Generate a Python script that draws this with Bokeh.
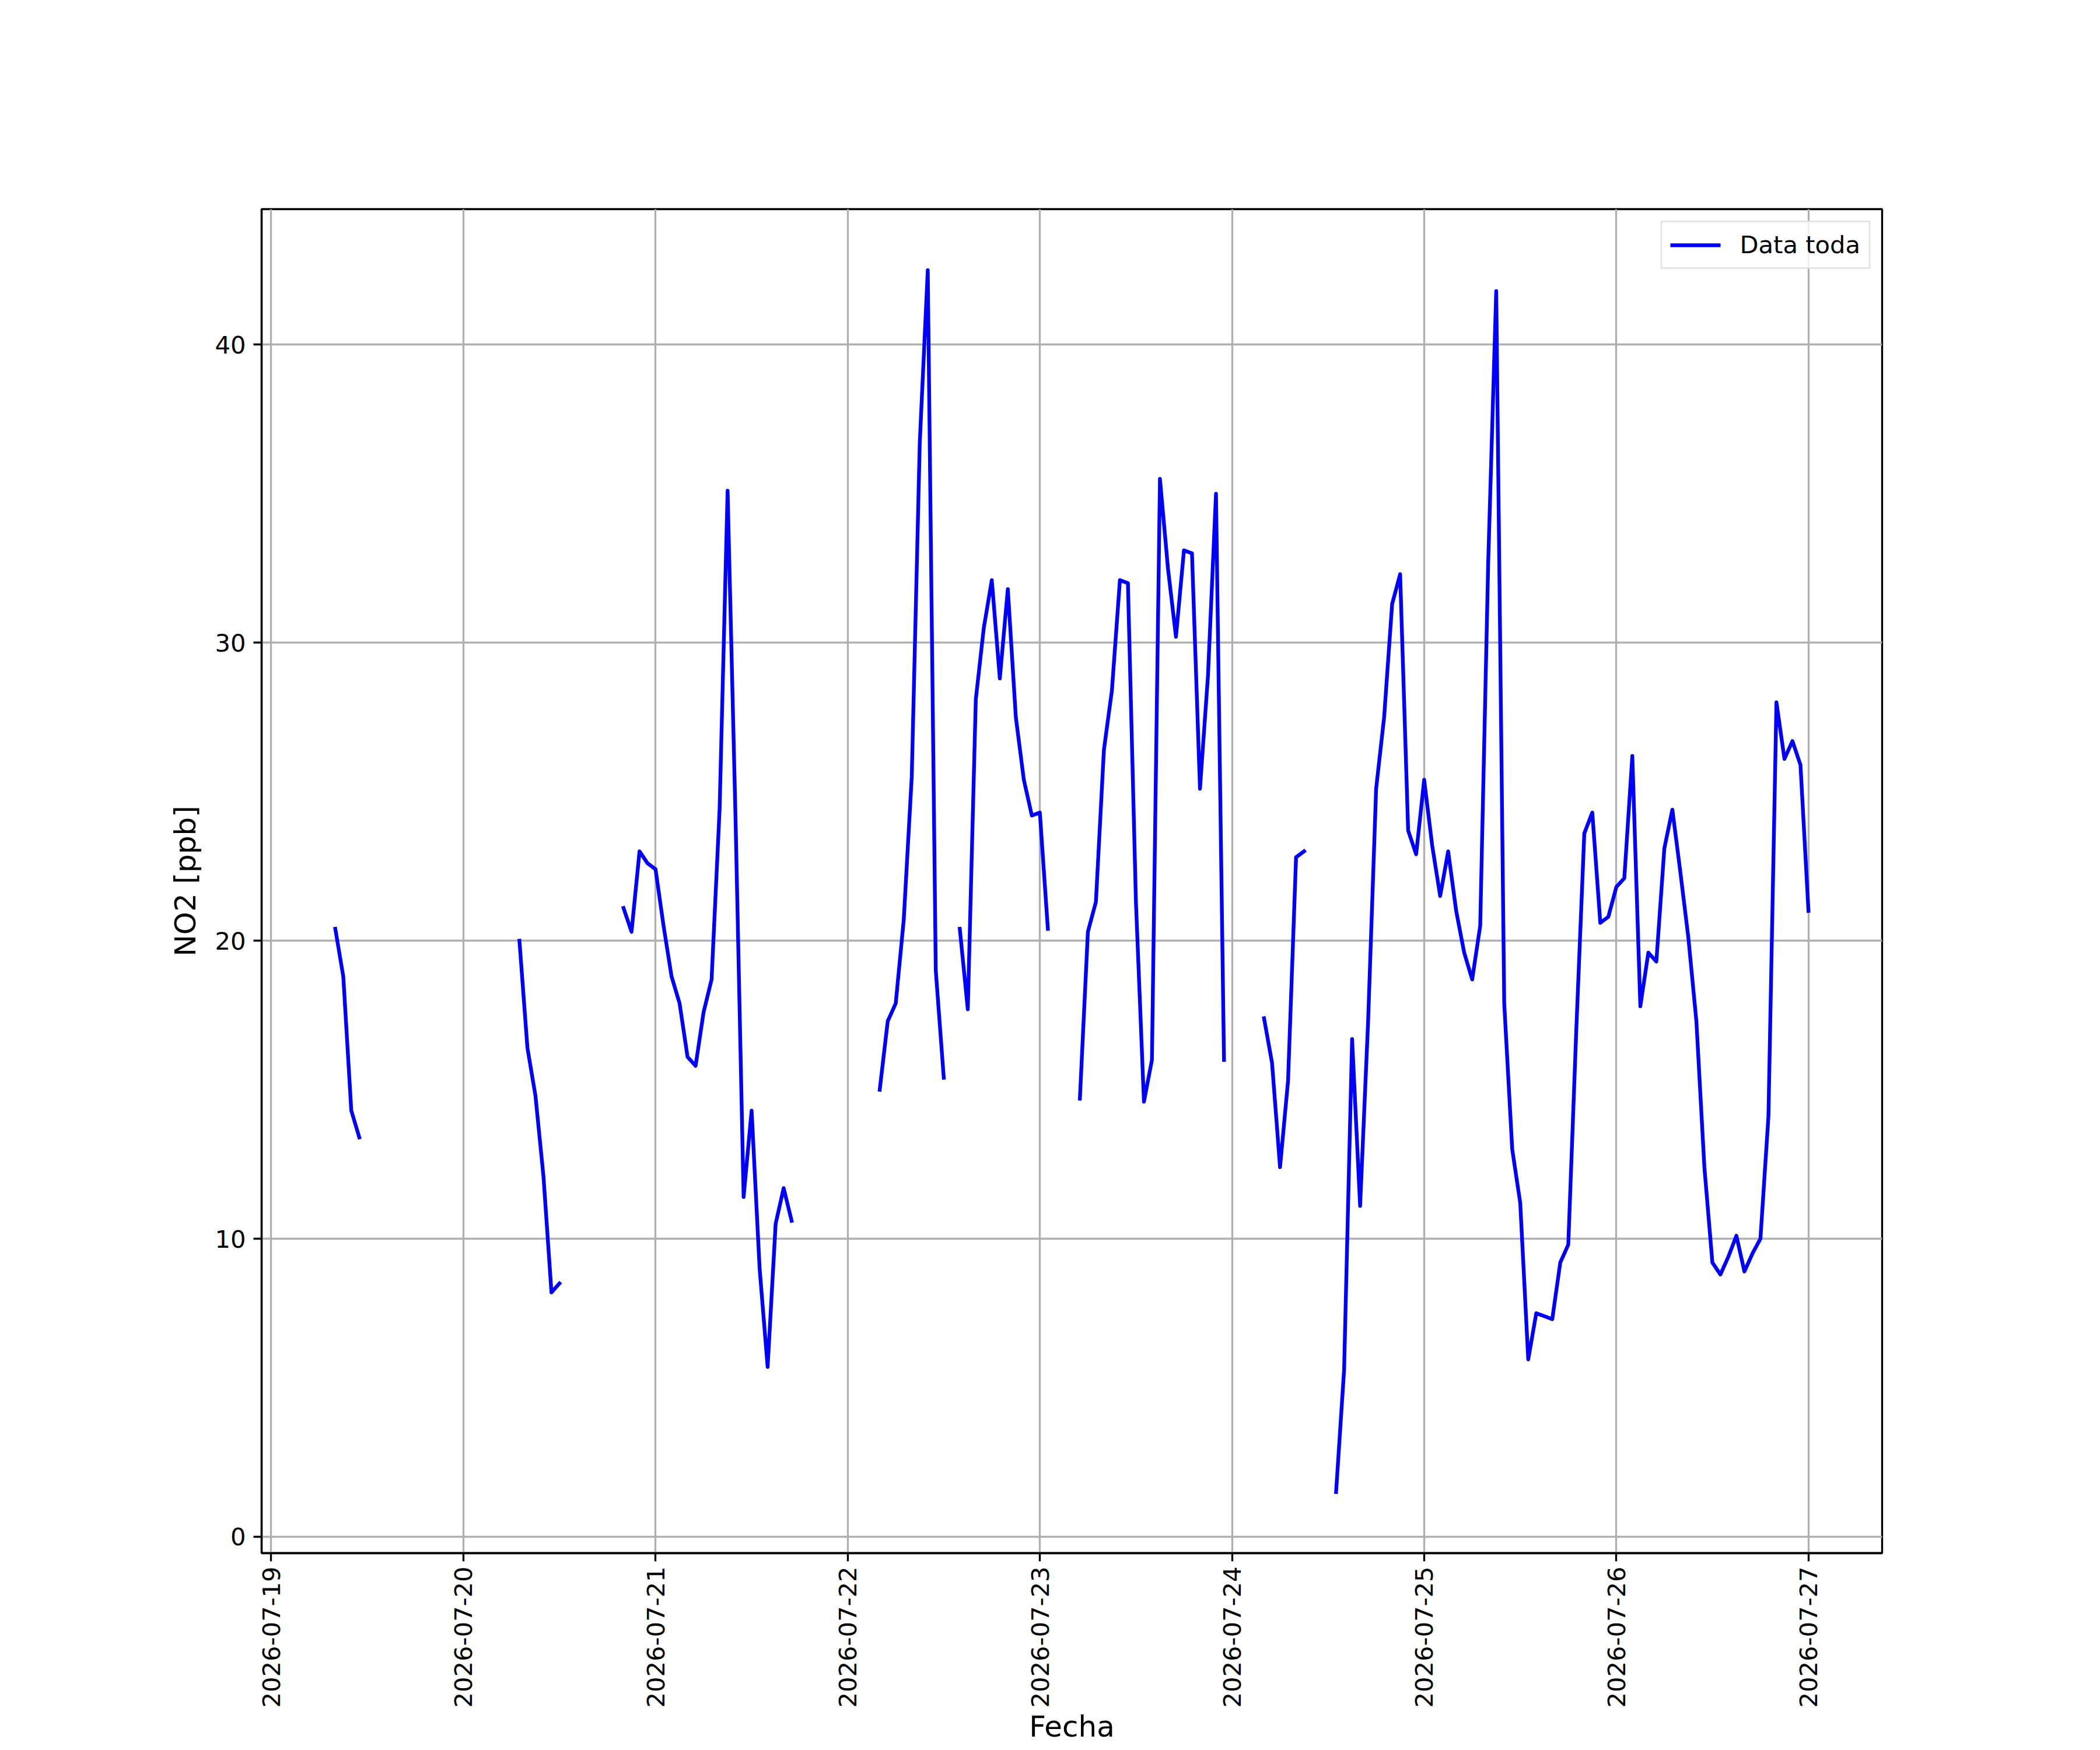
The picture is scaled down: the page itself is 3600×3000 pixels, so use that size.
import math
import numpy as np
import pandas as pd
from bokeh.plotting import figure
from bokeh.models import (ColumnDataSource, Range1d, FixedTicker, DatetimeTickFormatter,
                          Legend, LegendItem)
from bokeh.embed import file_html
from bokeh.resources import INLINE

# ---- data (hourly NO2, ppb), each list is a continuous run of hours ----
seg1_start = "2026-07-19 08:00"
seg1 = [20.4, 18.8, 14.3, 13.4]
seg2_start = "2026-07-20 07:00"
seg2 = [20.0, 16.4, 14.8, 12.1, 8.2, 8.5]
seg3_start = "2026-07-20 20:00"
seg3 = [21.1, 20.3, 23.0, 22.6, 22.4, 20.5, 18.8, 17.9, 16.1, 15.8, 17.6, 18.7,
        24.4, 35.1, 24.0, 11.4, 14.3, 9.0, 5.7, 10.5, 11.7, 10.6]
seg4_start = "2026-07-22 04:00"
seg4 = [15.0, 17.3, 17.9, 20.7, 25.5, 36.7, 42.5, 19.0, 15.4]
seg5_start = "2026-07-22 14:00"
seg5 = [20.4, 17.7, 28.1, 30.5, 32.1, 28.8, 31.8, 27.5, 25.4, 24.2, 24.3, 20.4]
seg6_start = "2026-07-23 05:00"
seg6 = [14.7, 20.3, 21.3, 26.4, 28.4, 32.1, 32.0, 21.3, 14.6, 16.0, 35.5, 32.5,
        30.2, 33.1, 33.0, 25.1, 28.9, 35.0, 16.0]
seg7_start = "2026-07-24 04:00"
seg7 = [17.4, 15.9, 12.4, 15.3, 22.8, 23.0]
seg8_start = "2026-07-24 13:00"
seg8_day24 = [1.5, 5.6, 16.7, 11.1, 17.3, 25.1, 27.5, 31.3, 32.3, 23.7, 22.9]
seg8_day25 = [25.4, 23.2, 21.5, 23.0, 21.0, 19.6, 18.7, 20.5, 32.7, 41.8, 17.9, 13.0,
              11.2, 5.95, 7.5, 7.4, 7.3, 9.2, 9.8, 17.0, 23.6, 24.3, 20.6, 20.8]
seg8_day26 = [21.8, 22.1, 26.2, 17.8, 19.6, 19.3, 23.1, 24.4, 22.3, 20.1, 17.3, 12.4,
              9.2, 8.8, 9.4, 10.1, 8.9, 9.5, 10.0, 14.1, 28.0, 26.1, 26.7, 25.9]
seg8_day27 = [21.0]

tick_days = ["2026-07-19", "2026-07-20", "2026-07-21", "2026-07-22", "2026-07-23",
             "2026-07-24", "2026-07-25", "2026-07-26", "2026-07-27"]
y_ticks = [0, 10, 20, 30, 40]
series_label = "Data toda"
x_label = "Fecha"
y_label = "NO2 [ppb]"

segments = [
    (seg1_start, seg1), (seg2_start, seg2), (seg3_start, seg3), (seg4_start, seg4),
    (seg5_start, seg5), (seg6_start, seg6), (seg7_start, seg7),
    (seg8_start, seg8_day24 + seg8_day25 + seg8_day26 + seg8_day27),
]


def ms(ts):
    return pd.Timestamp(ts).value / 1e6


xs, ys = [], []
for start, vals in segments:
    times = pd.date_range(start, periods=len(vals), freq="h")
    xs.extend([t.value / 1e6 for t in times])
    ys.extend(vals)
    xs.append(times[-1].value / 1e6 + 1800e3)
    ys.append(np.nan)
xs = xs[:-1]
ys = ys[:-1]

src = ColumnDataSource(dict(x=xs, y=ys))

valid_x = [x for x, y in zip(xs, ys) if not np.isnan(y)]
valid_y = [y for y in ys if not np.isnan(y)]
xmin, xmax = min(valid_x), max(valid_x)
ymin, ymax = min(valid_y), max(valid_y)
xpad = 0.05 * (xmax - xmin)
ypad = 0.05 * (ymax - ymin)
x0, x1 = xmin - xpad, xmax + xpad
y0, y1 = ymin - ypad, ymax + ypad

FONT = "DejaVu Sans"
LW = 3.33

p = figure(width=3584, height=2992, x_axis_type="datetime",
           x_range=Range1d(x0, x1), y_range=Range1d(y0, y1),
           output_backend="svg", toolbar_location=None,
           min_border_left=448, min_border_right=358,
           min_border_top=358, min_border_bottom=330)

p.background_fill_color = "white"
p.border_fill_color = "white"
p.outline_line_color = "black"
p.outline_line_width = LW

r = p.line("x", "y", source=src, line_color="#0000ff", line_width=6.4,
           line_join="round", line_cap="square")

# axes
p.xaxis.ticker = FixedTicker(ticks=[ms(d) for d in tick_days])
fmt = "%Y-%m-%d"
p.xaxis.formatter = DatetimeTickFormatter(
    microseconds=fmt, milliseconds=fmt, seconds=fmt, minsec=fmt, minutes=fmt,
    hourmin=fmt, hours=fmt, days=fmt, months=fmt, years=fmt)
p.xaxis.major_label_orientation = math.pi / 2
p.yaxis.ticker = FixedTicker(ticks=y_ticks)

for ax in (p.xaxis, p.yaxis):
    ax.axis_line_color = "black"
    ax.axis_line_width = LW
    ax.major_tick_line_color = "black"
    ax.major_tick_line_width = LW
    ax.major_tick_out = 14
    ax.major_tick_in = 0
    ax.minor_tick_out = 0
    ax.minor_tick_in = 0
    ax.major_label_text_font = FONT
    ax.major_label_text_font_size = "41.67px"
    ax.major_label_text_color = "black"
    ax.axis_label_text_font = FONT
    ax.axis_label_text_font_size = "50px"
    ax.axis_label_text_font_style = "normal"
    ax.axis_label_text_color = "black"
p.xaxis.major_label_standoff = 9
p.yaxis.major_label_standoff = 13

p.xaxis.axis_label = x_label
p.xaxis.axis_label_standoff = 0
p.yaxis.axis_label = y_label
p.yaxis.axis_label_standoff = 18

# grid
for g in (p.xgrid, p.ygrid):
    g.grid_line_color = "#b0b0b0"
    g.grid_line_width = LW

# legend
legend = Legend(items=[LegendItem(label=series_label, renderers=[r])],
                location="top_right")
legend.margin = 20
legend.padding = 14
legend.spacing = 0
legend.glyph_width = 86
legend.glyph_height = 42
legend.label_standoff = 33
legend.label_text_font = FONT
legend.label_text_font_size = "41.67px"
legend.label_text_color = "black"
legend.border_line_color = "#cccccc"
legend.border_line_width = LW
legend.background_fill_color = "white"
legend.background_fill_alpha = 0.8
p.add_layout(legend)

open("out.html", "w").write(file_html(p, INLINE))
